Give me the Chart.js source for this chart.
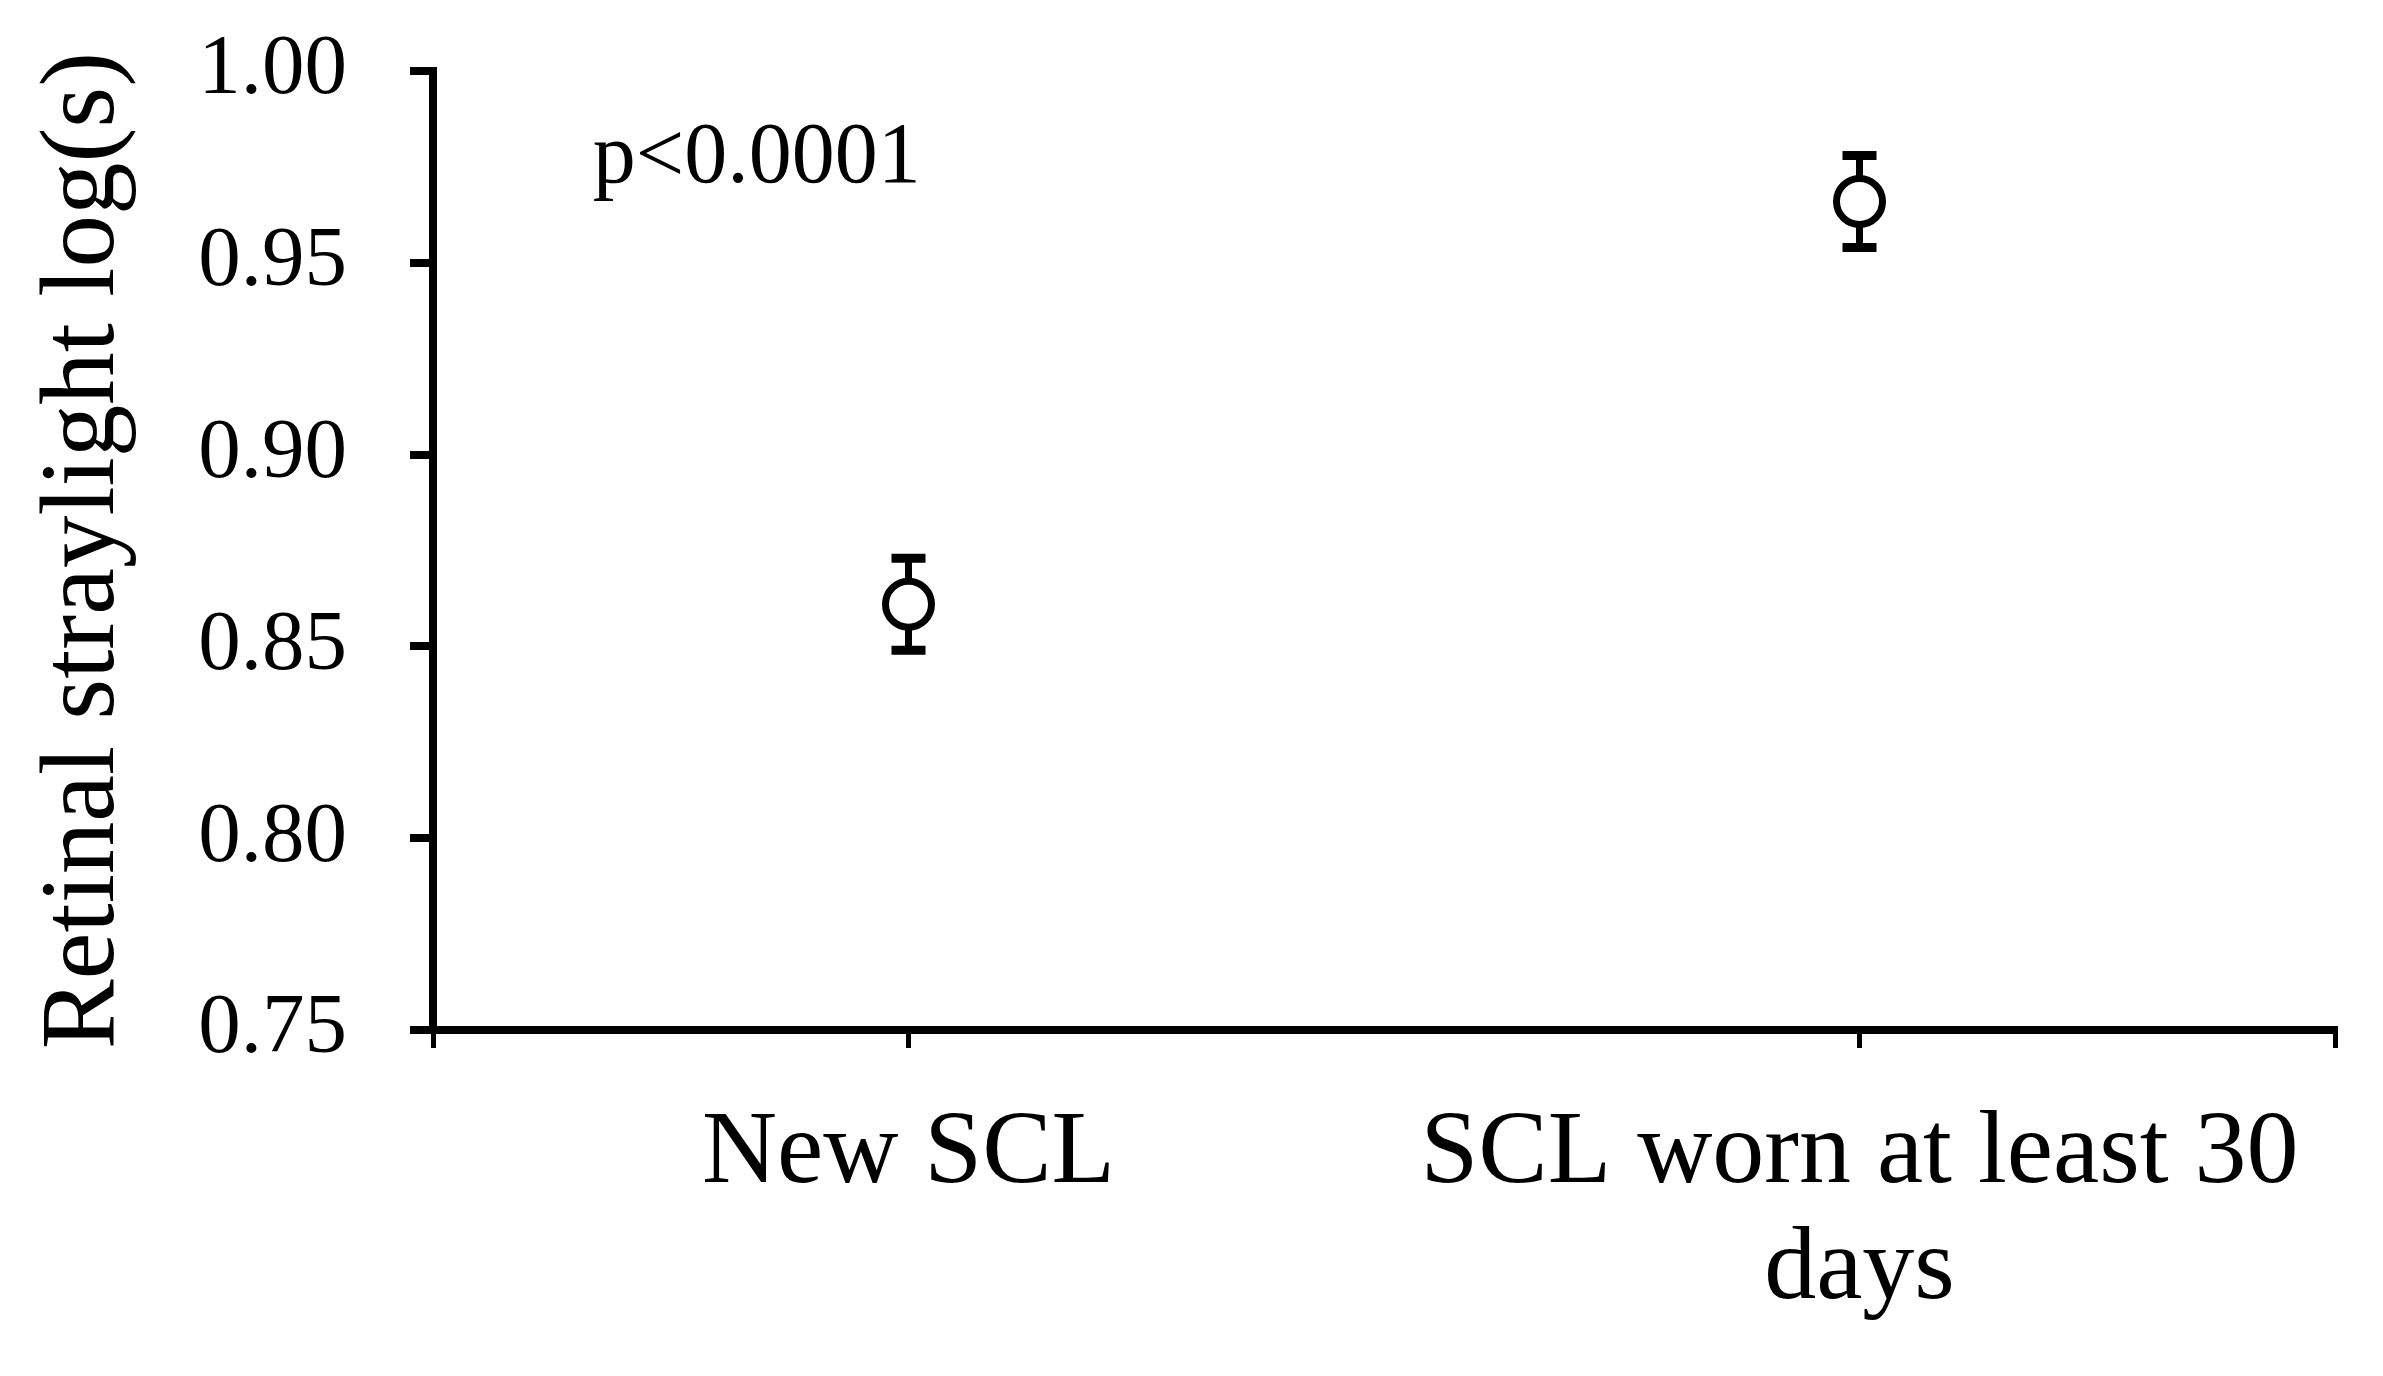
<!DOCTYPE html>
<html>
<head>
<meta charset="utf-8">
<title>Retinal straylight</title>
<script src="https://cdn.jsdelivr.net/npm/chart.js@4.4.1/dist/chart.umd.min.js"></script>
<style>
  html, body { margin: 0; padding: 0; background: #fff; }
  #wrap { width: 2383px; height: 1376px; }
</style>
</head>
<body>
<div id="wrap"><canvas id="chart" width="2383" height="1376"></canvas></div>
<script>
// Data
const categories = [['New SCL'], ['SCL worn at least 30', 'days']];
const means = [0.861, 0.966];
const errors = [0.012, 0.012];   // error bar half-length
const yMin = 0.75, yMax = 1.00, yStep = 0.05;
const yTitle = 'Retinal straylight log(s)';
const note = 'p<0.0001';
const notePos = { x: 0.668, y: 0.971 };

const serif = '"Liberation Serif", "Times New Roman", serif';

// error bars drawn under the points
const errorBars = {
    id: 'errorBars',
    beforeDatasetsDraw(chart) {
        const { ctx, scales: { x, y } } = chart;
        ctx.save();
        ctx.strokeStyle = '#000';
        means.forEach((m, i) => {
            const px = x.getPixelForValue(i + 1);
            const top = y.getPixelForValue(m + errors[i]);
            const bot = y.getPixelForValue(m - errors[i]);
            ctx.lineWidth = 7;
            ctx.beginPath();
            ctx.moveTo(px, top);
            ctx.lineTo(px, bot);
            ctx.stroke();
            ctx.lineWidth = 9;
            ctx.beginPath();
            ctx.moveTo(px - 17, top);
            ctx.lineTo(px + 17, top);
            ctx.moveTo(px - 17, bot);
            ctx.lineTo(px + 17, bot);
            ctx.stroke();
        });
        ctx.restore();
    }
};

const pNote = {
    id: 'pNote',
    afterDraw(chart) {
        const { ctx, scales: { x, y } } = chart;
        ctx.save();
        ctx.font = '86px ' + serif;
        ctx.fillStyle = '#000';
        ctx.textAlign = 'left';
        ctx.textBaseline = 'alphabetic';
        ctx.fillText(note, x.getPixelForValue(notePos.x), y.getPixelForValue(notePos.y));
        ctx.restore();
    }
};

new Chart(document.getElementById('chart'), {
    type: 'scatter',
    data: {
        datasets: [{
            data: means.map((m, i) => ({ x: i + 1, y: m })),
            pointStyle: 'circle',
            pointRadius: 23,
            pointHoverRadius: 23,
            pointBorderWidth: 7,
            pointBackgroundColor: '#fff',
            pointBorderColor: '#000'
        }]
    },
    options: {
        responsive: false,
        animation: false,
        layout: { padding: { top: 71, right: 47, bottom: 0, left: 0 } },
        plugins: { legend: { display: false }, tooltip: { enabled: false } },
        scales: {
            x: {
                type: 'linear',
                min: 0.5,
                max: categories.length + 0.5,
                afterBuildTicks: (s) => {
                    s.ticks = [0.5, ...categories.map((c, i) => i + 1), categories.length + 0.5].map(v => ({ value: v }));
                },
                afterFit: (s) => { s.height = 346; },
                border: { display: true, color: '#000', width: 8 },
                grid: { display: true, drawOnChartArea: false, color: '#000', lineWidth: 5, tickLength: 18 },
                ticks: {
                    autoSkip: false,
                    maxRotation: 0,
                    minRotation: 0,
                    padding: 48,
                    color: '#000',
                    font: { family: serif, size: 104, lineHeight: 1.12 },
                    callback: (v) => {
                        const c = categories[Math.round(v) - 1];
                        return Number.isInteger(v) && c ? c : '';
                    }
                }
            },
            y: {
                min: yMin,
                max: yMax,
                afterFit: (s) => {
                    s.width = 433;
                    // tick padding should not push the plot area down
                    s.paddingTop = 0;
                    s.paddingBottom = 0;
                },
                border: { display: true, color: '#000', width: 8 },
                grid: { display: true, drawOnChartArea: false, color: '#000', lineWidth: 8, tickLength: 23 },
                ticks: {
                    stepSize: yStep,
                    padding: 63,
                    color: '#000',
                    font: { family: serif, size: 85 },
                    callback: (v) => v.toFixed(2)
                },
                title: {
                    display: true,
                    text: yTitle,
                    color: '#000',
                    font: { family: serif, size: 105, lineHeight: 1 },
                    padding: { top: 33, bottom: 0 }
                }
            }
        }
    },
    plugins: [errorBars, pNote]
});
</script>
</body>
</html>
